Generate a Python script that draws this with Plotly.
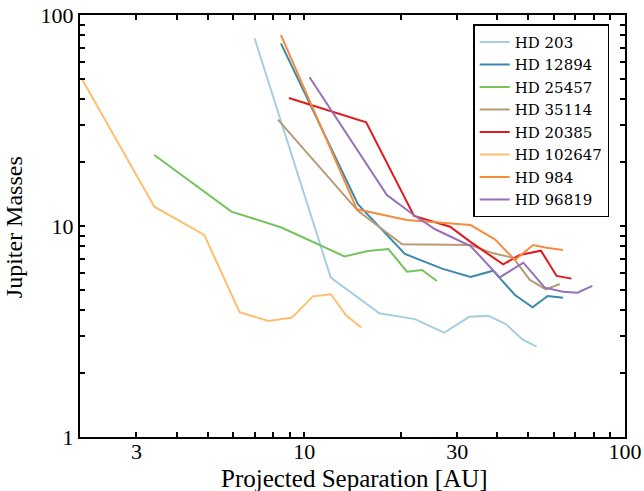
import plotly.graph_objects as go
import math

names = ["HD 203", "HD 12894", "HD 25457", "HD 35114", "HD 20385",
         "HD 102647", "HD 984", "HD 96819"]
colors = ["#a6cee3", "#3a89ad", "#74c35c", "#b89a76", "#e31a1c",
          "#fdbf6f", "#f28e3e", "#9670b8"]

hd203_x = [7.0, 12.1, 17.15, 22.15, 27.3, 32.7, 37.5, 42.5, 47.9, 53.0]
hd203_y = [77.6, 5.69, 3.86, 3.62, 3.12, 3.71, 3.75, 3.43, 2.90, 2.68]

hd12894_x = [8.46, 14.7, 20.6, 26.9, 33.0, 38.8, 45.4, 51.5, 57.4, 64.1]
hd12894_y = [73.4, 12.7, 7.37, 6.28, 5.73, 6.14, 4.71, 4.12, 4.66, 4.57]

hd25457_x = [3.41, 5.93, 8.46, 13.35, 15.8, 18.3, 20.9, 23.3, 25.9]
hd25457_y = [21.7, 11.7, 9.86, 7.18, 7.61, 7.78, 6.07, 6.19, 5.49]

hd35114_x = [8.28, 14.7, 20.2, 33.0, 38.8, 44.8, 50.5, 56.7, 62.6]
hd35114_y = [31.9, 11.8, 8.19, 8.13, 7.42, 7.08, 5.55, 5.01, 5.31]

hd20385_x = [8.96, 15.6, 22.0, 28.5, 32.9, 41.7, 47.0, 54.7, 61.2, 68.1]
hd20385_y = [40.4, 31.0, 11.15, 9.92, 8.43, 6.58, 7.29, 7.64, 5.80, 5.63]

hd102647_x = [2.03, 3.41, 4.88, 6.29, 7.74, 9.16, 10.64, 12.11, 13.5, 15.05]
hd102647_y = [49.6, 12.35, 9.07, 3.90, 3.55, 3.68, 4.64, 4.75, 3.77, 3.30]

hd984_x = [8.46, 14.6, 20.9, 25.9, 33.0, 39.3, 45.4, 51.7, 56.9, 64.1]
hd984_y = [80.4, 12.0, 10.67, 10.4, 10.1, 8.65, 6.9, 8.13, 7.89, 7.69]

hd96819_x = [10.39, 18.1, 21.9, 25.6, 33.0, 40.7, 48.2, 56.2, 64.1, 71.1, 79.1]
hd96819_y = [50.7, 14.0, 11.3, 9.65, 8.04, 5.71, 6.70, 5.10, 4.88, 4.83, 5.20]

series_x = [hd203_x, hd12894_x, hd25457_x, hd35114_x, hd20385_x,
            hd102647_x, hd984_x, hd96819_x]
series_y = [hd203_y, hd12894_y, hd25457_y, hd35114_y, hd20385_y,
            hd102647_y, hd984_y, hd96819_y]

x_tickvals = [2, 3, 4, 5, 6, 7, 8, 9, 10, 20, 30, 40, 50, 60, 70, 80, 90, 100]
x_labeled = {3: "3", 10: "10", 30: "30", 100: "100"}
y_tickvals = [1, 2, 3, 4, 5, 6, 7, 8, 9, 10, 20, 30, 40, 50, 60, 70, 80, 90, 100]
y_labeled = {1: "1", 10: "10", 100: "100"}

x_title = "Projected Separation [AU]"
y_title = "Jupiter Masses"

font_family = "Liberation Serif"

fig = go.Figure()
for n, c, xs, ys in zip(names, colors, series_x, series_y):
    fig.add_trace(go.Scatter(x=xs, y=ys, mode="lines", name=n,
                             line=dict(color=c, width=2)))

axis_common = dict(
    type="log", showline=True, linewidth=2, linecolor="black",
    mirror="allticks", ticks="inside", ticklen=5, tickwidth=1.5,
    tickcolor="black", showgrid=False, zeroline=False, automargin=False,
    tickfont=dict(family=font_family, size=22, color="black"),
)

fig.update_xaxes(
    range=[math.log10(2), 2],
    tickvals=x_tickvals,
    ticktext=[x_labeled.get(v, "") for v in x_tickvals],
    ticklabelstandoff=-6,
    **axis_common,
)
fig.update_yaxes(
    range=[0, 2],
    tickvals=y_tickvals,
    ticktext=[y_labeled.get(v, "") for v in y_tickvals],
    **axis_common,
)

fig.add_annotation(text=x_title, xref="paper", yref="paper",
                   x=0.503, y=-0.099, xanchor="center", yanchor="middle",
                   showarrow=False,
                   font=dict(family=font_family, size=25, color="black"))
fig.add_annotation(text=y_title, xref="paper", yref="paper",
                   x=-0.122, y=0.496, xanchor="center", yanchor="middle",
                   textangle=-90, showarrow=False,
                   font=dict(family=font_family, size=24, color="black"))

fig.update_layout(
    width=644, height=491,
    margin=dict(l=80, r=19, t=15, b=54),
    paper_bgcolor="white", plot_bgcolor="white",
    font=dict(family=font_family, color="black"),
    legend=dict(x=0.971, y=0.978, xanchor="right", yanchor="top",
                bordercolor="black", borderwidth=1.5, bgcolor="white",
                font=dict(family="DejaVu Serif", size=15, color="black"),
                tracegroupgap=0, itemwidth=30),
    showlegend=True,
)

fig.write_html("out.html", config={"displayModeBar": False},
               post_script="document.body.style.margin='0';")
